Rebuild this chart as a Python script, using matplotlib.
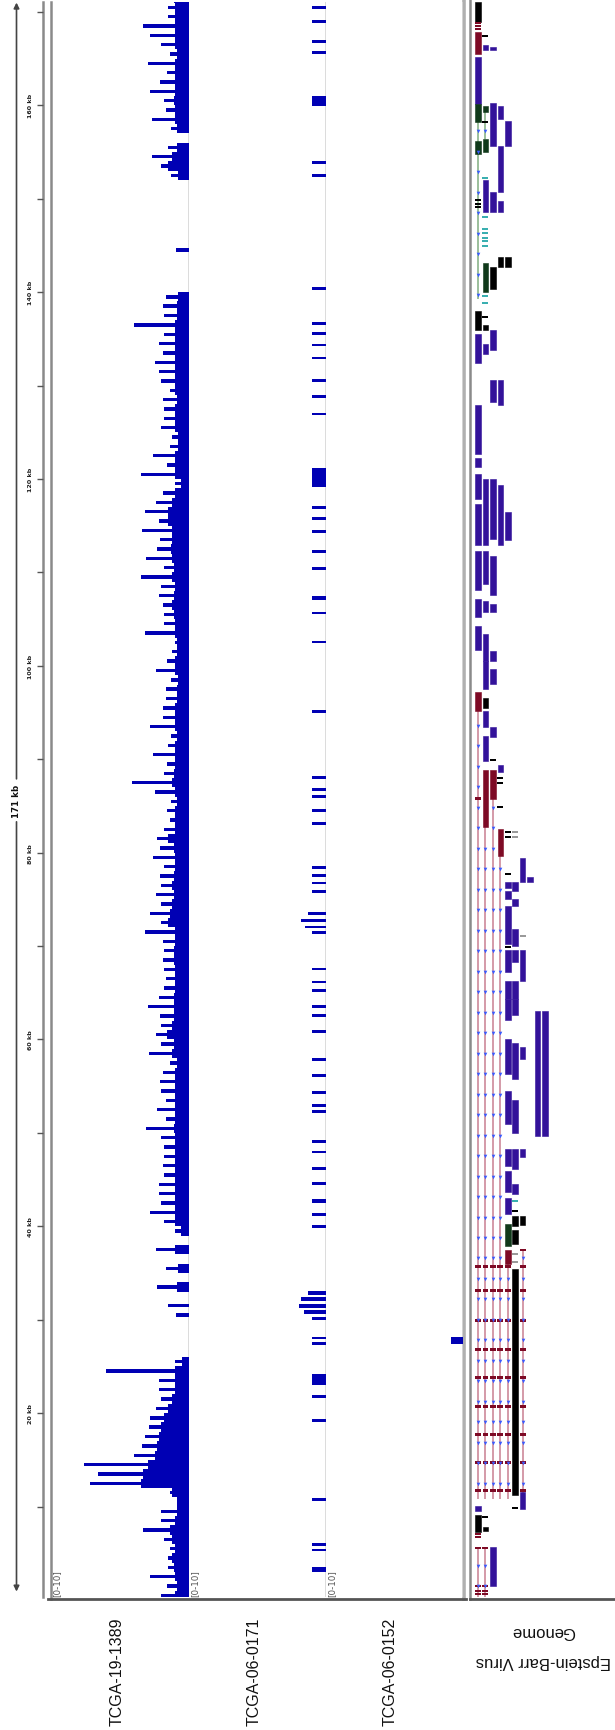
import matplotlib
matplotlib.use("Agg")
import matplotlib.pyplot as plt
import numpy as np

# ---------------------------------------------------------------- data
# 1-kb bins along the EBV genome (bin start, kb)
bin_kb = np.arange(0, 172)

# TCGA-19-1389: typical depth per bin and the highest spike inside the bin
cov1389_base = [
    1.0, 0.9, 1.0, 1.1, 1.2, 1.0, 1.2, 1.4, 1.0, 0.9,
    0.9, 1.2, 3.5, 3.3, 3.0, 2.5, 2.3, 2.2, 2.0, 1.8,
    1.5, 1.2, 1.0, 1.0, 1.0, 0.5, 0.0, 0.0, 0.0, 0.0,
    0.0, 0.0, 0.0, 0.9, 0.0, 0.8, 0.0, 1.0, 0.0, 0.6,
    1.0, 1.0, 1.0, 1.0, 1.0, 1.0, 1.0, 1.0, 1.0, 1.0,
    1.1, 1.0, 1.0, 1.0, 1.0, 1.0, 1.0, 0.9, 1.2, 1.1,
    1.6, 1.2, 1.1, 1.1, 1.1, 1.0, 1.0, 1.0, 1.1, 1.1,
    1.0, 1.0, 1.5, 1.4, 1.2, 1.1, 1.2, 1.1, 1.0, 1.0,
    1.1, 1.5, 1.0, 1.0, 1.0, 0.9, 1.0, 1.2, 1.1, 1.0,
    1.0, 1.0, 0.9, 1.0, 1.0, 1.0, 0.9, 0.9, 0.8, 1.0,
    1.0, 0.9, 0.9, 1.0, 1.0, 1.1, 1.2, 1.1, 1.0, 1.2,
    1.1, 1.2, 1.3, 1.2, 1.2, 1.5, 1.5, 1.2, 1.0, 0.6,
    1.0, 1.0, 1.0, 0.8, 0.8, 1.0, 1.0, 1.0, 0.9, 1.0,
    1.0, 1.0, 1.0, 1.0, 1.0, 1.0, 1.0, 0.9, 0.9, 0.8,
    0.0, 0.0, 0.0, 0.0, 0.0, 0.0, 0.0, 0.0, 0.0, 0.0,
    0.0, 0.0, 0.8, 1.5, 1.2, 0.9, 0.0, 0.9, 1.0, 1.0,
    1.1, 1.0, 1.0, 1.0, 1.0, 0.9, 1.0, 1.0, 1.0, 1.0,
    1.0, 1.1,
]
cov1389_peak = [
    2.0, 1.6, 2.8, 1.5, 1.5, 1.4, 1.8, 3.3, 2.0, 2.0,
    0.9, 1.4, 7.2, 6.6, 7.6, 4.0, 3.4, 3.2, 2.9, 2.8,
    2.4, 2.0, 2.2, 2.2, 6.0, 1.0, 0.0, 0.0, 0.0, 0.0,
    0.95, 1.5, 0.0, 2.3, 0.0, 1.7, 0.0, 2.4, 0.0, 1.0,
    1.8, 2.8, 2.0, 2.2, 2.2, 1.8, 1.9, 1.8, 1.8, 2.0,
    3.1, 1.7, 2.3, 1.7, 2.0, 2.1, 1.9, 1.4, 2.9, 2.0,
    2.4, 2.0, 2.1, 3.0, 2.2, 1.8, 1.7, 1.8, 1.9, 1.8,
    1.9, 3.2, 2.0, 2.8, 2.0, 2.4, 2.0, 2.1, 1.8, 2.6,
    2.1, 2.3, 1.8, 1.4, 1.6, 1.3, 2.5, 4.1, 1.8, 1.6,
    2.6, 1.5, 1.3, 2.8, 1.9, 1.9, 1.7, 1.7, 1.3, 2.4,
    1.6, 1.2, 1.0, 3.2, 1.8, 1.8, 1.9, 2.2, 2.0, 3.5,
    1.8, 3.1, 2.3, 2.1, 3.4, 2.2, 3.2, 2.4, 1.9, 1.0,
    3.5, 1.6, 2.6, 1.4, 1.2, 2.0, 1.8, 1.8, 1.9, 1.4,
    2.0, 2.2, 2.5, 1.9, 2.2, 1.8, 4.0, 1.8, 1.9, 1.7,
    0.0, 0.0, 0.0, 0.0, 0.95, 0.0, 0.0, 0.0, 0.0, 0.0,
    0.0, 0.0, 1.3, 2.0, 2.7, 1.5, 0.0, 1.3, 2.7, 1.7,
    1.8, 2.8, 2.1, 1.6, 3.0, 1.4, 2.0, 2.8, 3.3, 1.5,
    1.5, 2.5,
]

# TCGA-06-0171: sparse read piles (start kb, end kb, depth)
cov0171_start = [170.3, 168.8, 166.7, 165.5, 159.9, 153.7, 152.3, 140.2, 136.5, 135.4,
                 134.2, 132.8, 130.4, 128.7, 126.8, 119.1, 116.8, 115.6, 114.2, 112.1,
                 110.3, 107.0, 105.5, 102.4, 95.0, 87.9, 86.6, 85.9, 84.4, 83.0,
                 78.2, 77.4, 76.6, 75.7, 73.3, 72.6, 71.9, 71.3, 67.4, 66.0,
                 65.1, 63.4, 62.4, 60.7, 57.7, 56.0, 54.2, 52.8, 52.1, 48.9,
                 47.9, 46.0, 44.4, 42.5, 41.1, 39.8, 32.7, 32.0, 31.3, 30.6,
                 30.0, 27.9, 27.3, 23.0, 21.6, 19.1, 10.6, 5.8, 5.2, 3.0]
cov0171_end = [170.6, 169.1, 167.0, 165.8, 161.0, 154.0, 152.6, 140.5, 136.8, 135.7,
               134.5, 133.1, 130.7, 129.0, 127.1, 121.2, 117.1, 115.9, 114.5, 112.4,
               110.6, 107.5, 105.8, 102.7, 95.3, 88.2, 86.9, 86.2, 84.7, 83.3,
               78.6, 77.7, 76.9, 76.0, 73.7, 72.9, 72.2, 71.6, 67.7, 66.3,
               65.4, 63.7, 62.7, 61.0, 58.0, 56.3, 54.5, 53.1, 52.4, 49.2,
               48.1, 46.3, 44.7, 42.9, 41.4, 40.1, 33.1, 32.4, 31.7, 31.0,
               30.3, 28.2, 27.6, 24.2, 21.9, 19.4, 10.9, 6.1, 5.5, 3.5]
cov0171_depth = [1.0, 1.0, 1.0, 1.0, 1.0, 1.0, 1.0, 1.0, 1.0, 1.0,
                 1.0, 1.0, 1.0, 1.0, 1.0, 1.0, 1.0, 1.0, 1.0, 1.0,
                 1.0, 1.0, 1.0, 1.0, 1.0, 1.0, 1.0, 1.0, 1.0, 1.0,
                 1.0, 1.0, 1.0, 1.0, 1.3, 1.8, 1.5, 1.0, 1.0, 1.0,
                 1.0, 1.0, 1.0, 1.0, 1.0, 1.0, 1.0, 1.0, 1.0, 1.0,
                 1.0, 1.0, 1.0, 1.0, 1.0, 1.0, 1.3, 1.8, 2.0, 1.6,
                 1.0, 1.0, 1.0, 1.0, 1.0, 1.0, 1.0, 1.0, 1.0, 1.0]

# TCGA-06-0152: a single pile
cov0152_start = [27.4]
cov0152_end = [28.1]
cov0152_depth = [0.9]

track_names = ["TCGA-19-1389", "TCGA-06-0171", "TCGA-06-0152"]
data_range = "[0-10]"
ruler_ticks_kb = list(range(10, 171, 10))
ruler_label_kb = list(range(20, 161, 20))
genome_label = "171 kb"
annotation_lines = ["Epstein-Barr Virus", "Genome"]

# gene annotation: exon blocks (row, from kb, to kb, colour key)
exon_row = [0, 0, 0, 0, 0, 1, 1, 1, 1, 1, 2, 2, 2, 2, 3, 3, 3, 3, 4, 4,
            0, 1, 0, 1, 2, 2, 3, 0, 0, 0, 0, 1, 2, 3, 4, 0, 1, 2, 0, 1,
            2, 0, 1, 2, 1, 2, 0, 1,
            1, 2, 1, 3, 1, 2, 3, 6, 7, 4, 5, 4, 5, 4, 5, 4, 5, 6, 4, 5,
            4, 5, 8, 9, 4, 5, 6, 4, 5, 4, 5, 6,
            4, 5, 4, 5, 6, 4, 5, 4, 5, 6, 0, 0, 1, 2]
exon_from = [168.9, 165.5, 160.1, 158.2, 154.8, 165.9, 159.3, 155.0, 148.6, 140.0,
             165.9, 155.6, 148.6, 140.3, 158.5, 150.7, 148.6, 142.7, 155.6, 142.7,
             135.9, 135.9, 132.4, 133.4, 133.8, 128.2, 127.9, 122.7, 121.3, 117.9,
             112.9, 112.9, 113.6, 112.9, 113.5, 108.1, 108.8, 107.6, 105.2, 105.8,
             105.8, 101.7, 100.5, 100.5, 97.5, 98.1, 95.2, 95.5,
             93.4, 92.4, 89.8, 88.6, 82.7, 85.7, 79.6, 76.9, 76.9, 76.2,
             75.9, 75.0, 74.3, 70.2, 70.0, 67.2, 68.3, 66.3, 64.3, 64.3,
             62.1, 62.6, 49.7, 49.7, 56.3, 55.8, 57.9, 51.0, 50.0, 46.5,
             46.1, 47.4,
             43.7, 43.5, 41.3, 40.0, 40.1, 37.9, 38.1, 36.0, 11.2, 9.7,
             9.5, 7.3, 7.4, 1.5]
exon_to = [171.1, 167.9, 165.2, 160.1, 156.2, 166.5, 159.9, 156.4, 152.0, 143.1,
           166.2, 160.3, 150.7, 142.7, 159.9, 155.6, 149.8, 143.8, 158.3, 143.8,
           138.0, 136.5, 135.5, 134.4, 135.9, 130.6, 130.6, 127.9, 122.3, 120.5,
           117.3, 120.0, 120.0, 119.4, 116.5, 112.3, 112.3, 111.8, 107.1, 106.9,
           106.6, 104.3, 103.4, 101.6, 100.5, 99.7, 97.2, 96.6,
           95.2, 93.4, 92.5, 89.4, 88.9, 88.9, 82.5, 79.4, 77.4, 76.9,
           76.9, 75.9, 75.0, 74.3, 71.8, 69.6, 69.6, 69.6, 66.3, 66.3,
           64.3, 64.3, 63.0, 63.0, 60.1, 59.6, 59.2, 54.5, 53.5, 48.3,
           48.3, 48.3,
           45.9, 44.5, 43.0, 41.1, 41.1, 40.2, 39.6, 37.5, 35.4, 11.6,
           10.1, 9.1, 7.8, 5.7]
exon_kind = ["K", "R", "P", "G", "G", "P", "G", "G", "P", "G",
             "P", "P", "P", "K", "P", "P", "P", "K", "P", "K",
             "K", "K", "P", "P", "P", "P", "P", "P", "P", "P",
             "P", "P", "P", "P", "P", "P", "P", "P", "P", "P",
             "P", "P", "P", "P", "P", "P", "R", "K",
             "P", "P", "P", "P", "R", "R", "R", "P", "P", "P",
             "P", "P", "P", "P", "P", "P", "P", "P", "P", "P",
             "P", "P", "P", "P", "P", "P", "P", "P", "P", "P",
             "P", "P",
             "P", "P", "P", "K", "K", "G", "K", "R", "K", "P",
             "P", "K", "K", "P"]

# introns (row, from kb, to kb, colour key)
intron_row = [0, 1, 0, 1, 2, 3, 4, 6, 0, 1]
intron_from = [139.3, 156.4, 10.8, 10.8, 10.8, 10.8, 10.8, 10.8, 0.3, 0.3]
intron_to = [158.2, 159.3, 95.2, 82.7, 85.7, 79.6, 36.0, 37.6, 5.7, 5.7]
intron_kind = ["G", "G", "R", "R", "R", "R", "R", "R", "R", "R"]

# short features (row, position kb, colour key)
mark_row = [0, 0, 0, 1, 1, 0, 0, 0, 1, 1, 1, 1, 1, 1, 1, 1, 1, 1,
            2, 0, 3, 3, 3, 4, 4, 5, 5, 4, 6, 4, 5, 5, 5, 5, 6, 5, 1, 0, 0,
            0, 1, 0, 1, 0, 1, 0, 1]
mark_pos = [168.8, 168.5, 168.2, 167.4, 158.2, 149.9, 149.4, 149.1, 152.2, 148.0,
            146.8, 146.3, 145.8, 145.5, 144.9, 139.6, 138.8, 137.3,
            89.9, 85.8, 88.0, 87.5, 84.9, 82.2, 81.7, 82.2, 81.7, 77.7, 71.1, 69.9,
            42.7, 41.6, 37.0, 36.2, 37.5, 9.8, 8.9, 7.1, 6.7,
            5.6, 5.6, 1.5, 1.5, 1.0, 1.0, 0.6, 0.6]
mark_kind = ["R", "R", "R", "K", "K", "K", "K", "K", "C", "C", "C", "C", "C", "C",
             "C", "C", "C", "K",
             "K", "R", "K", "K", "K", "K", "K", "A", "A", "K", "A", "K",
             "C", "K", "A", "A", "R", "K", "K", "R", "R",
             "R", "R", "R", "R", "R", "R", "R", "R"]

# repeated small exons shared by the long transcripts
w_exon_kb = [35.7, 33.1, 29.9, 26.8, 23.8, 20.7, 17.7, 14.7, 11.7]
w_exon_rows = [0, 1, 2, 3, 4, 6]

# ---------------------------------------------------------------- style
W, H, DPI = 615, 1731, 100
BLUE = "#0000B4"
FEATURE = {"P": "#33129A", "R": "#7E0A25", "K": "#000000", "G": "#10391A",
           "C": "#3AAFB0", "A": "#9A9A9A"}
INTRON = {"R": "#D49AA8", "G": "#9BBF9B"}
CHEVRON = "#3A5BFF"
VIEW = (0.32, 171.06)          # genome window shown, kb
ARROW_STEP = 2.194             # strand arrow spacing, kb
ARROW_ANCHOR = 93.6

fig = plt.figure(figsize=(W / DPI, H / DPI), dpi=DPI)
fig.patch.set_facecolor("white")


def px_axes(x0, y0, x1, y1, z=1):
    ax = fig.add_axes([x0 / W, 1 - y1 / H, (x1 - x0) / W, (y1 - y0) / H], zorder=z)
    ax.set_axis_off()
    ax.patch.set_alpha(0)
    return ax


# overlay in pixel units for frame lines and names
ov = px_axes(0, 0, W, H, z=0)
ov.set_xlim(0, W)
ov.set_ylim(H, 0)

# ---------------------------------------------------------------- coverage tracks
ax1 = px_axes(51, 3, 189, 1598, z=2)
ax2 = px_axes(189, 3, 326, 1598, z=2)
ax3 = px_axes(326, 3, 463, 1598, z=2)
for ax in (ax1, ax2, ax3):
    ax.set_xlim(10, 0)
    ax.set_ylim(*VIEW)
    ax.axvline(0, color="#D6D6D6", lw=1.2, zorder=0)

ax1.barh(bin_kb, cov1389_base, height=1.0, align="edge", color=BLUE, lw=0)
ax1.barh(bin_kb + 0.32, cov1389_peak, height=0.36, align="edge", color=BLUE, lw=0)

s2 = np.array(cov0171_start)
e2 = np.array(cov0171_end)
ax2.barh(s2, cov0171_depth, height=e2 - s2, align="edge", color=BLUE, lw=0)
s3 = np.array(cov0152_start)
e3 = np.array(cov0152_end)
ax3.barh(s3, cov0152_depth, height=e3 - s3, align="edge", color=BLUE, lw=0)

# data range labels
for xpx in (52, 190, 327):
    ov.text(xpx + 4.5, 1597, data_range, rotation=90, ha="center", va="bottom",
            fontsize=6.3, color="#555555", family="DejaVu Sans")

# ---------------------------------------------------------------- gene annotation
axg = px_axes(471, 3, 615, 1598, z=2)
axg.set_xlim(-0.94, 18.39)
axg.set_ylim(*VIEW)

for r, a, b, k in zip(intron_row, intron_from, intron_to, intron_kind):
    axg.vlines(r, a, b, color=INTRON[k], lw=1.4, zorder=1)
    n0 = int(np.ceil((ARROW_ANCHOR - b) / ARROW_STEP))
    n1 = int(np.floor((ARROW_ANCHOR - a) / ARROW_STEP))
    pos = [ARROW_ANCHOR - n * ARROW_STEP for n in range(n0, n1 + 1)]
    pos = [p for p in pos if a + 0.3 < p < b - 0.3]
    axg.plot([r] * len(pos), pos, ls="none", marker="v", ms=2.6, mew=0,
             color=CHEVRON, zorder=3)

ef = np.array(exon_from)
et = np.array(exon_to)
axg.bar(exon_row, et - ef, bottom=ef, width=0.74,
        color=[FEATURE[k] for k in exon_kind], lw=0.4,
        edgecolor=[FEATURE[k] for k in exon_kind], zorder=2)

mp = np.array(mark_pos)
axg.bar(mark_row, 0.22, bottom=mp - 0.11, width=0.8,
        color=[FEATURE[k] for k in mark_kind], lw=0, zorder=2)

for r in w_exon_rows:
    axg.bar([r] * len(w_exon_kb), 0.28, bottom=np.array(w_exon_kb) - 0.14,
            width=0.78, color=FEATURE["R"], lw=0, zorder=2)

# ---------------------------------------------------------------- ruler
axr = px_axes(0, 3, 52, 1598, z=2)
axr.set_xlim(0, 52)
axr.set_ylim(*VIEW)
axr.hlines(ruler_ticks_kb, 37, 43, color="#555555", lw=1.0)
for kb in ruler_label_kb:
    axr.text(30.5, kb, f"{kb} kb", rotation=90, ha="center", va="center",
             fontsize=4.6, fontweight="bold", color="#222222")

# genome span arrow with its size in the middle
mid = 85.6
axr.annotate("", xy=(16.5, 171.0), xytext=(16.5, mid + 2.3),
             arrowprops=dict(arrowstyle="-|>", color="#444444", lw=1.2,
                             mutation_scale=8, shrinkA=0, shrinkB=0))
axr.annotate("", xy=(16.5, 0.9), xytext=(16.5, mid - 2.3),
             arrowprops=dict(arrowstyle="-|>", color="#444444", lw=1.2,
                             mutation_scale=8, shrinkA=0, shrinkB=0))
axr.text(16.5, mid, genome_label, rotation=90, ha="center", va="center",
         fontsize=6.2, fontweight="bold", color="#111111")

# ---------------------------------------------------------------- frame lines
ov.plot([43, 43], [3, 1598], color="#8A8A8A", lw=1.8)
ov.plot([51, 51], [3, 1600], color="#8A8A8A", lw=1.8)
ov.plot([464.2, 464.2], [0, 1600], color="#B0B0B0", lw=2.6)
ov.plot([469.5, 469.5], [0, 1600], color="#8A8A8A", lw=1.8)
ov.plot([48, 466], [1600.5, 1600.5], color="#555555", lw=2.0)
ov.plot([470, 615], [1600.5, 1600.5], color="#555555", lw=2.0)

# track names
for xc, name in zip((117, 254, 390), track_names):
    ov.text(xc, 1726, name, rotation=90, ha="center", va="bottom",
            fontsize=11.5, color="#111111", family="Liberation Sans")
# annotation track name, printed upside down
for yc, line in zip((1662, 1632), annotation_lines):
    ov.text(543, yc, line, rotation=180, ha="center", va="center",
            fontsize=12, color="#111111", family="Liberation Sans")

fig.savefig("out.png", dpi=DPI, facecolor="white")
